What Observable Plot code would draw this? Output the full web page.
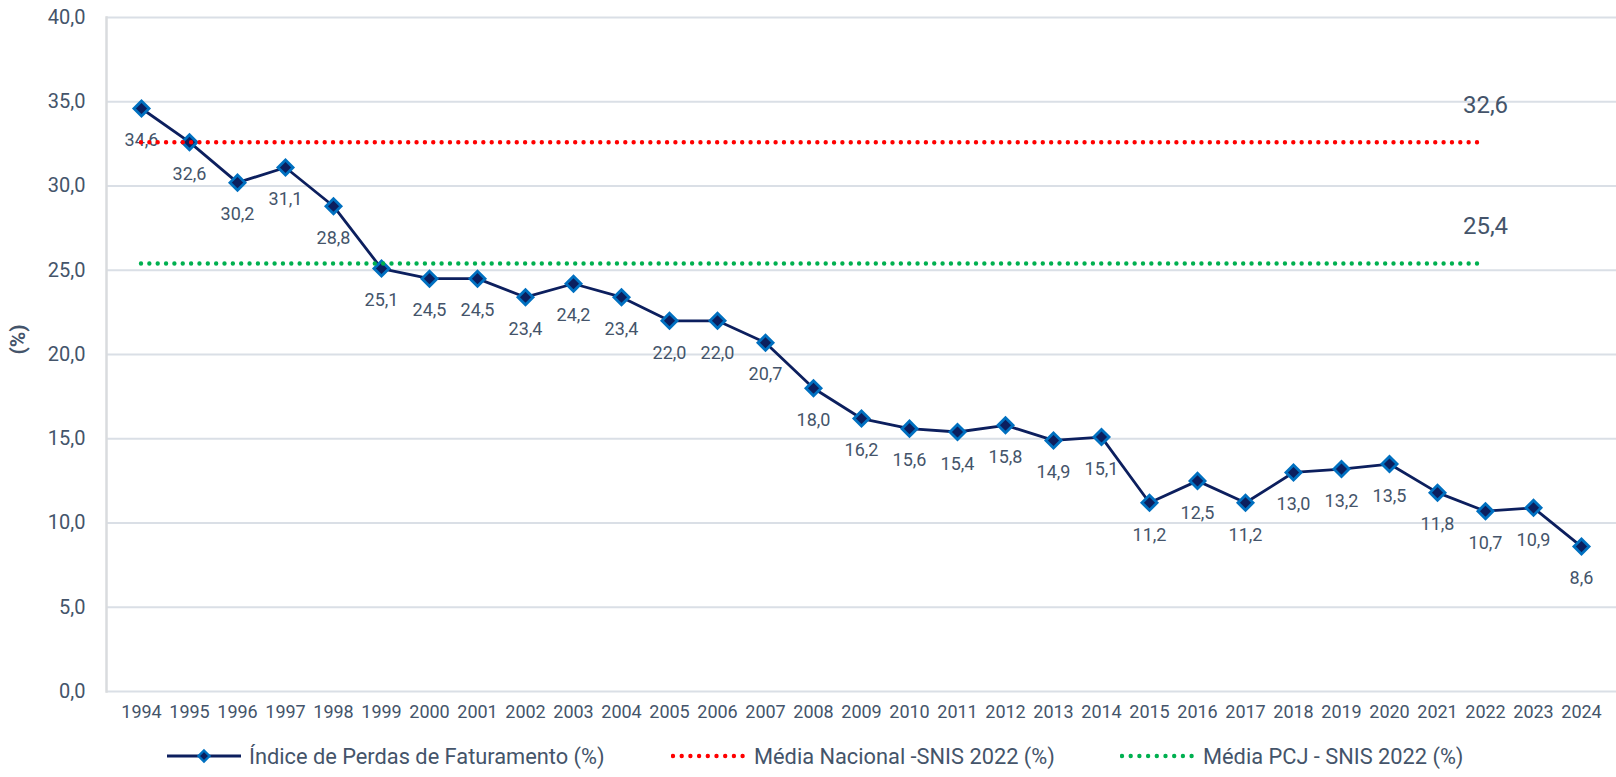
<!DOCTYPE html>
<html>
<head>
<meta charset="utf-8">
<script src="https://cdn.jsdelivr.net/npm/d3@7"></script>
<script src="https://cdn.jsdelivr.net/npm/@observablehq/plot@0.6"></script>
<style>
  html, body { margin: 0; padding: 0; background: #fff; }
  body { font-family: Roboto, "Noto Sans", sans-serif; color: #44546a; width: 1616px; height: 777px; overflow: hidden; }
  #chart svg { display: block; }
  #legend { position: relative; width: 1616px; height: 42px; }
  .item { position: absolute; top: 0; height: 42px; display: flex; align-items: center; font-size: 21.8px; color: #44546a; white-space: nowrap; }
  .item svg { display: block; }
</style>
</head>
<body>
<div id="chart"></div>
<div id="legend"></div>
<script>
// ---- data ----
const years = ["1994","1995","1996","1997","1998","1999","2000","2001","2002","2003","2004","2005","2006","2007","2008","2009","2010","2011","2012","2013","2014","2015","2016","2017","2018","2019","2020","2021","2022","2023","2024"];
const perdas = [34.6,32.6,30.2,31.1,28.8,25.1,24.5,24.5,23.4,24.2,23.4,22.0,22.0,20.7,18.0,16.2,15.6,15.4,15.8,14.9,15.1,11.2,12.5,11.2,13.0,13.2,13.5,11.8,10.7,10.9,8.6];
const mediaNacional = [32.6];
const mediaPCJ = [25.4];
const refStart = "1994";
const refEnd = "2022";
const yTicks = [0,5,10,15,20,25,30,35,40];
const yTitle = ["(%)"];
const seriesNames = ["Índice de Perdas de Faturamento (%)", "Média Nacional -SNIS 2022 (%)", "Média PCJ - SNIS 2022 (%)"];

// ---- styles ----
const navy = "#0c1f5e", blue = "#0070c0", red = "#ff0000", green = "#00b050", txt = "#44546a";
const fmt = v => v.toFixed(1).replace(".", ",");
const data = years.map((y, i) => ({year: y, value: perdas[i]}));

const chart = Plot.plot({
  width: 1616,
  height: 735,
  marginLeft: 106,
  marginRight: 0,
  marginTop: 17,
  marginBottom: 44,
  style: {fontFamily: "Roboto, 'Noto Sans', sans-serif", color: txt, background: "#fff"},
  x: {type: "point", domain: years, padding: 0.5, label: null},
  y: {domain: [0, 40], label: null},
  marks: [
    Plot.gridY(yTicks, {stroke: "#dadfe6", strokeOpacity: 1, strokeWidth: 2}),
    Plot.frame({anchor: "left", stroke: "#d9dbde", strokeWidth: 2.5}),
    Plot.line(data, {x: "year", y: "value", stroke: navy, strokeWidth: 2.8}),
    Plot.dot(data, {x: "year", y: "value", symbol: "diamond2", r: 6.8, fill: navy, stroke: blue, strokeWidth: 2.8}),
    Plot.text(data, {x: "year", y: "value", text: d => fmt(d.value), dy: 32, fontSize: 18, fill: txt}),
    Plot.ruleY(mediaNacional, {x1: () => refStart, x2: () => refEnd, y: d => d, stroke: red, strokeWidth: 4.4, strokeDasharray: "0,8.35", strokeLinecap: "round"}),
    Plot.ruleY(mediaPCJ, {x1: () => refStart, x2: () => refEnd, y: d => d, stroke: green, strokeWidth: 4.4, strokeDasharray: "0,8.35", strokeLinecap: "round"}),
    Plot.text(mediaNacional, {x: () => refEnd, y: d => d, text: d => fmt(d), dy: -37, fontSize: 24, fill: txt}),
    Plot.text(mediaPCJ, {x: () => refEnd, y: d => d, text: d => fmt(d), dy: -37, fontSize: 24, fill: txt}),
    Plot.axisY(yTicks, {tickSize: 0, tickPadding: 21, tickFormat: fmt, fontSize: 20, label: null}),
    Plot.text(yTitle, {frameAnchor: "left", dx: -88, rotate: -90, text: d => d, fontSize: 21, fontWeight: 700, fill: txt}),
    Plot.axisX({tickSize: 0, tickPadding: 14, fontSize: 18, label: null})
  ]
});
document.getElementById("chart").appendChild(chart);

// ---- legend ----
const legend = document.getElementById("legend");
const items = [
  {left: 167, w: 74, kind: "series", name: seriesNames[0]},
  {left: 671, w: 75, kind: "dots", color: red, name: seriesNames[1]},
  {left: 1120, w: 75, kind: "dots", color: green, name: seriesNames[2]}
];
items.forEach(it => {
  const div = document.createElement("div");
  div.className = "item";
  div.style.left = it.left + "px";
  let sw;
  if (it.kind === "series") {
    sw = `<svg width="${it.w}" height="16"><line x1="0" y1="8" x2="${it.w}" y2="8" stroke="${navy}" stroke-width="3"/><path d="M${it.w/2},2.5L${it.w/2+5.5},8L${it.w/2},13.5L${it.w/2-5.5},8Z" fill="${navy}" stroke="${blue}" stroke-width="2.4"/></svg>`;
  } else {
    sw = `<svg width="${it.w}" height="16"><line x1="2" y1="8" x2="${it.w-2}" y2="8" stroke="${it.color}" stroke-width="4.4" stroke-dasharray="0,8.7" stroke-linecap="round"/></svg>`;
  }
  div.innerHTML = sw + `<span style="margin-left:8px">${it.name}</span>`;
  legend.appendChild(div);
});
</script>
</body>
</html>
